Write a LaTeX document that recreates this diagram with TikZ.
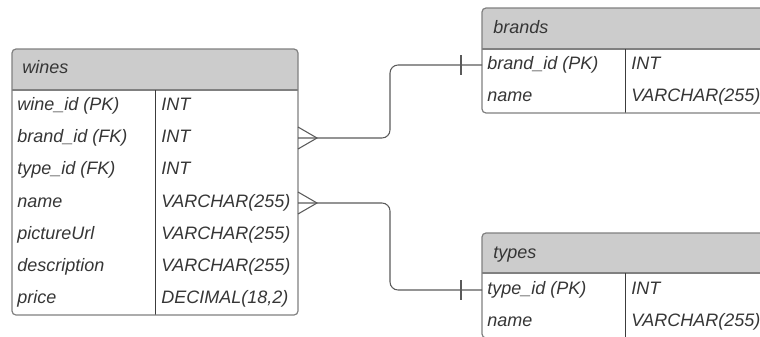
\documentclass[tikz,border=0pt]{standalone}
\usepackage{fontspec}
\setmainfont{Liberation Sans}
\begin{document}
\begin{tikzpicture}[x=0.75pt,y=-0.75pt]
  \definecolor{ink}{HTML}{363636}
  \definecolor{hdrfill}{HTML}{CCCCCC}
  \definecolor{frame}{HTML}{808080}
  \definecolor{divider}{HTML}{3C3C3C}
  \definecolor{linkcol}{HTML}{5A5A5A}
  \tikzset{
    cell/.style={anchor=west, inner sep=0pt, text=ink,
      font=\fontsize{13.5pt}{16pt}\selectfont\itshape,
      text height=10pt, text depth=4pt},
    tframe/.style={draw=frame, line width=0.9pt, rounded corners=3pt},
    hsep/.style={draw=frame, line width=0.9pt},
    csep/.style={draw=divider, line width=0.6pt},
    link/.style={draw=linkcol, line width=0.8pt},
    linkbend/.style={link, rounded corners=6pt},
  }
  \useasboundingbox (0,0) rectangle (760,336);
  \clip (0,0) rectangle (760,336);

  % ---------- table: wines ----------
  \fill[white, rounded corners=3pt] (12,49) rectangle (298,315);
  \fill[hdrfill] (12,90) [rounded corners=3pt] -- (12,49) -- (298,49) [sharp corners] -- (298,90) -- cycle;
  \draw[hsep] (12,90) -- (298,90);
  \draw[csep] (155,90) -- (155,315);
  \draw[tframe] (12,49) rectangle (298,315);
  \node[cell] (wh) at (22,69.5) {wines};
  \node[cell] (w1a) at (17,106) {wine\_id (PK)};
  \node[cell] (w1b) at (161,106) {INT};
  \node[cell] (w2a) at (17,138) {brand\_id (FK)};
  \node[cell] (w2b) at (161,138) {INT};
  \node[cell] (w3a) at (17,170) {type\_id (FK)};
  \node[cell] (w3b) at (161,170) {INT};
  \node[cell] (w4a) at (17,203) {name};
  \node[cell] (w4b) at (161,203) {VARCHAR(255)};
  \node[cell] (w5a) at (17,235) {pictureUrl};
  \node[cell] (w5b) at (161,235) {VARCHAR(255)};
  \node[cell] (w6a) at (17,267) {description};
  \node[cell] (w6b) at (161,267) {VARCHAR(255)};
  \node[cell] (w7a) at (17,299) {price};
  \node[cell] (w7b) at (161,299) {DECIMAL(18,2)};

  % ---------- table: brands ----------
  \fill[white, rounded corners=3pt] (482,8) rectangle (800,113);
  \fill[hdrfill] (482,49) [rounded corners=3pt] -- (482,8) -- (800,8) [sharp corners] -- (800,49) -- cycle;
  \draw[hsep] (482,49) -- (800,49);
  \draw[csep] (625,49) -- (625,113);
  \draw[tframe] (482,8) rectangle (800,113);
  \node[cell] (bh) at (493,29) {brands};
  \node[cell] (b1a) at (487,65) {brand\_id (PK)};
  \node[cell] (b1b) at (631,65) {INT};
  \node[cell] (b2a) at (487,97) {name};
  \node[cell] (b2b) at (631,97) {VARCHAR(255)};

  % ---------- table: types ----------
  \fill[white, rounded corners=3pt] (482,233) rectangle (800,338);
  \fill[hdrfill] (482,273) [rounded corners=3pt] -- (482,233) -- (800,233) [sharp corners] -- (800,273) -- cycle;
  \draw[hsep] (482,273) -- (800,273);
  \draw[csep] (625,273) -- (625,338);
  \draw[tframe] (482,233) rectangle (800,338);
  \node[cell] (th) at (493,254) {types};
  \node[cell] (t1a) at (487,290) {type\_id (PK)};
  \node[cell] (t1b) at (631,290) {INT};
  \node[cell] (t2a) at (487,322) {name};
  \node[cell] (t2b) at (631,322) {VARCHAR(255)};

  % ---------- relationship end points ----------
  \coordinate (wfkbrand) at (298,138);
  \coordinate (wfktype) at (298,203);
  \coordinate (bpk) at (482,65);
  \coordinate (tpk) at (482,290);
  \coordinate (elbow) at (390,0);

  % wines.brand_id  many ---- one  brands.brand_id
  \draw[linkbend] (wfkbrand) -- (wfkbrand -| elbow) -- (elbow |- bpk) -- (bpk);
  \draw[link] (wfkbrand) ++(0,-11) -- ++(19,11) -- ++(-19,11);
  \draw[link] (bpk) ++(-21,-10) -- ++(0,20);

  % wines.name  many ---- one  types.type_id
  \draw[linkbend] (wfktype) -- (wfktype -| elbow) -- (elbow |- tpk) -- (tpk);
  \draw[link] (wfktype) ++(0,-11) -- ++(19,11) -- ++(-19,11);
  \draw[link] (tpk) ++(-21,-10) -- ++(0,20);
\end{tikzpicture}
\end{document}
